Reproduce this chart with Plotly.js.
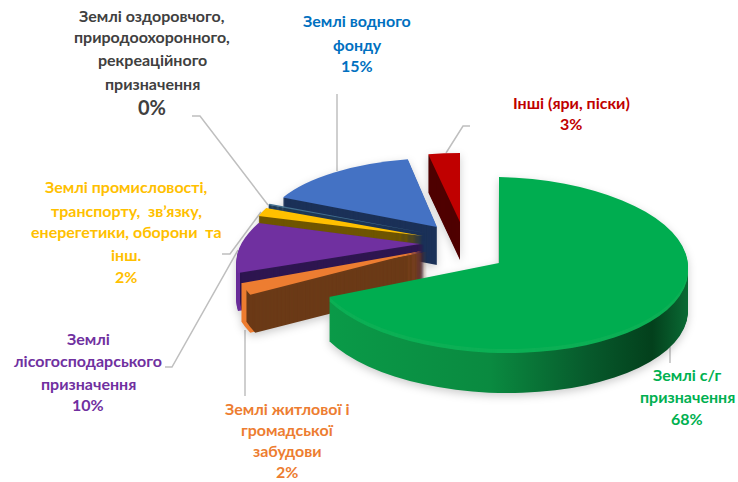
<!DOCTYPE html>
<html><head><meta charset="utf-8">
<script src="https://cdn.plot.ly/plotly-3.0.1.min.js"></script>
<style>html,body{margin:0;padding:0;background:#fff;overflow:hidden}
.pielayer{filter:drop-shadow(0 3px 4px rgba(0,0,0,.2))}</style>
</head><body><div id="chart" style="width:738px;height:482px"></div>
<script>
// Data (0% category is a thin sliver)
const categories = ["Землі с/г призначення","Землі житлової і громадської забудови","Землі лісогосподарського призначення","Землі промисловості, транспорту, зв’язку, енерегетики, оборони та інш.","Землі оздоровчого, природоохоронного, рекреаційного призначення","Землі водного фонду","Інші (яри, піски)"];
const shares = [68,2,10,2,0.3,15,3];

// Styles
const topColors  = ["#00ad50","#ed7d31","#7030a0","#ffc000","#44708f","#4472c4","#c00000"];
const wallColors = ["#0a8a40","#6b3a17","#2e1650","#6f5500","#1f3a55","#1b3158","#4f0000"];
const FONT = "Lato, Roboto, sans-serif";

// Exploded-slice placement in px: slice index, apex, in-plane 2x2 projection, extrusion, outer-rim colour
const placements = [
 {i:6, ex:460, ey:222, a:170, b:0,  c:0,   d:69, depth:38},
 {i:5, ex:437, ey:227, a:172, b:0,  c:-3,  d:69, depth:38},
 {i:4, ex:425, ey:233, a:172, b:0,  c:0,   d:68, depth:8},
 {i:3, ex:423, ey:236, a:172, b:0,  c:0,   d:68, depth:38},
 {i:2, ex:420, ey:244, a:180, b:-3, c:-36, d:81, depth:38, rim:"#6a2d9a", inset:4},
 {i:1, ex:422, ey:251, a:191, b:0,  c:0,   d:100,depth:38, rim:"#ed7d31", inset:5},
 {i:0, ex:499, ey:263, a:189, b:4,  c:0,   d:86, depth:44}
];
const STEP = 1;
const LABEL_SHIFT = -2;

const labelBlocks = [
 {color:"#404040", x:152, lines:[["Землі оздоровчого,",17],["природоохоронного,",39],["рекреаційного",61],["призначення",85],["0%",109,20]]},
 {color:"#0070c0", x:357, lines:[["Землі водного",23],["фонду",46],["15%",68]]},
 {color:"#c00000", x:571, lines:[["Інші (яри, піски)",104],["3%",126]]},
 {color:"#ffc000", x:126, lines:[["Землі промисловості,",189],["транспорту,  зв’язку,",212],["енерегетики, оборони  та",233],["інш.",256],["2%",278]]},
 {color:"#7030a0", x:88,  lines:[["Землі",340],["лісогосподарського",362],["призначення",385],["10%",406]]},
 {color:"#ed7d31", x:287, lines:[["Землі житлової і",410],["громадської",431],["забудови",452],["2%",473]]},
 {color:"#00b050", x:687, lines:[["Землі с/г",376],["призначення",398],["68%",420]]}
];
const leaders = [
 [[337,94],[337,171]],
 [[470,126],[463,126],[446,153]],
 [[192,116],[200,116],[268,205]],
 [[222,254],[230,254],[261,212]],
 [[165,367],[172,367],[238,250]],
 [[245,330],[245,396]],
 [[670,347],[670,363]]
];

const W = 738, H = 482;
const traces = [], meta = [];
function addPie(p, color, dy, dx){
  traces.push({type:"pie", values:shares, labels:categories, sort:false, direction:"clockwise", rotation:0,
    textinfo:"none", hoverinfo:"skip", showlegend:false,
    marker:{colors:shares.map((_,k)=>k===p.i?color:"rgba(0,0,0,0)"), line:{width:0}}});
  meta.push({p, dy, dx});
}
placements.forEach(p=>{
  if(p.rim){ for(let k=p.depth;k>0;k-=STEP) addPie(p,p.rim,k,0); }
  for(let k=p.depth;k>0;k-=STEP){
    const col = (p.i===0 && k<=4) ? "#0cb055" : wallColors[p.i];
    addPie(p,col,k,p.inset||0);
  }
  addPie(p,topColors[p.i],0,0);
});

const annotations = [];
labelBlocks.forEach(b=>b.lines.forEach(l=>annotations.push({
  xref:"paper",yref:"paper",x:b.x/W,y:1-(l[1]+LABEL_SHIFT)/H,xanchor:"center",yanchor:"middle",showarrow:false,
  text:"<b>"+l[0]+"</b>",font:{family:FONT,size:l[2]||16,color:b.color}
})));
const shapes = leaders.map(pts=>({type:"path",xref:"paper",yref:"paper",layer:"below",
  path:pts.map((q,n)=>(n?"L":"M")+(q[0]/W)+","+(1-q[1]/H)).join(" "),
  line:{color:"#bfbfbf",width:1.5}}));

Plotly.newPlot("chart",traces,{width:W,height:H,margin:{l:0,r:0,t:0,b:0},paper_bgcolor:"#fff",
  showlegend:false,annotations,shapes},{displayModeBar:false,staticPlot:true}).then(gd=>{
  const svg = gd.querySelector("svg.main-svg");
  const NS="http://www.w3.org/2000/svg";
  const defs = svg.querySelector("defs");
  const g = document.createElementNS(NS,"linearGradient"); g.id="greenWall";
  [[0,"#0a9a48"],[0.45,"#0a8a40"],[0.72,"#075a2c"],[0.9,"#03401c"],[1,"#0a6a34"]].forEach(s=>{
    const st=document.createElementNS(NS,"stop"); st.setAttribute("offset",s[0]); st.setAttribute("stop-color",s[1]); g.appendChild(st);
  });
  defs.appendChild(g);
  const groups = gd.querySelectorAll(".pielayer .trace");
  groups.forEach((el,n)=>{
    const m=meta[n], p=m.p, cd=gd.calcdata[n][0], r=cd.r, cx=cd.cx, cy=cd.cy;
    const A=p.a/r,B=p.b/r,C=p.c/r,D=p.d/r;
    const e=p.ex+m.dx-(A*cx+C*cy), f=p.ey+m.dy-(B*cx+D*cy);
    el.setAttribute("transform",`matrix(${A} ${B} ${C} ${D} ${e} ${f})`);
    if(p.i===0 && m.dy>4){
      el.querySelectorAll("path.surface").forEach((s,k)=>{ if(k===0) s.style.fill="url(#greenWall)"; });
    }
  });
});
</script></body></html>
